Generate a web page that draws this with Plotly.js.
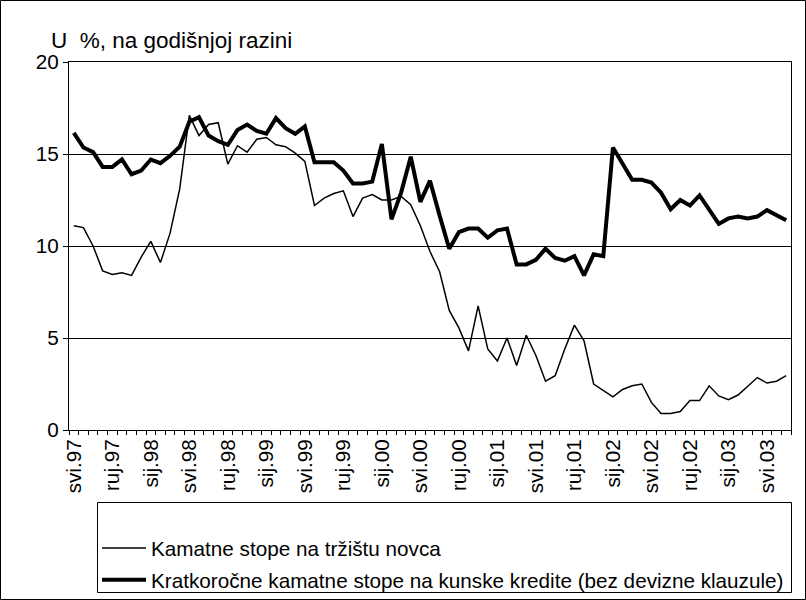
<!DOCTYPE html>
<html>
<head>
<meta charset="utf-8">
<script src="https://cdn.plot.ly/plotly-3.0.1.min.js"></script>
<style>
html,body{margin:0;padding:0;background:#fff;}
#chart{width:806px;height:600px;}
</style>
</head>
<body>
<div id="chart"></div>
<script>
// Monthly categories, May 1997 - July 2003
const months = [
 "svi.97","lip.97","srp.97","kol.97","ruj.97","lis.97","stu.97","pro.97",
 "sij.98","velj.98","ožu.98","tra.98","svi.98","lip.98","srp.98","kol.98","ruj.98","lis.98","stu.98","pro.98",
 "sij.99","velj.99","ožu.99","tra.99","svi.99","lip.99","srp.99","kol.99","ruj.99","lis.99","stu.99","pro.99",
 "sij.00","velj.00","ožu.00","tra.00","svi.00","lip.00","srp.00","kol.00","ruj.00","lis.00","stu.00","pro.00",
 "sij.01","velj.01","ožu.01","tra.01","svi.01","lip.01","srp.01","kol.01","ruj.01","lis.01","stu.01","pro.01",
 "sij.02","velj.02","ožu.02","tra.02","svi.02","lip.02","srp.02","kol.02","ruj.02","lis.02","stu.02","pro.02",
 "sij.03","velj.03","ožu.03","tra.03","svi.03","lip.03","srp.03"
];

// Tick labels shown on the axis
const tickLabels = ["svi.97","ruj.97","sij.98","svi.98","ruj.98","sij.99","svi.99","ruj.99",
 "sij.00","svi.00","ruj.00","sij.01","svi.01","ruj.01","sij.02","svi.02","ruj.02","sij.03","svi.03"];

// Kamatne stope na tržištu novca
const moneyMarket = [
 11.1, 11.0, 10.0, 8.65, 8.45, 8.55, 8.4, 9.4,
 10.25, 9.1, 10.7, 13.1, 17.1, 16.0, 16.6, 16.7, 14.45, 15.45, 15.1, 15.8,
 15.9, 15.5, 15.4, 15.05, 14.6, 12.2, 12.6, 12.85, 13.0, 11.6, 12.6, 12.8,
 12.5, 12.5, 12.7, 12.25, 11.1, 9.7, 8.6, 6.5, 5.55, 4.3, 6.75, 4.4,
 3.75, 5.0, 3.5, 5.15, 4.05, 2.65, 2.95, 4.4, 5.7, 4.85, 2.5, 2.15,
 1.8, 2.2, 2.4, 2.5, 1.5, 0.9, 0.9, 1.0, 1.6, 1.6, 2.4, 1.85,
 1.65, 1.9, 2.4, 2.85, 2.55, 2.65, 2.95
];

// Kratkoročne kamatne stope na kunske kredite (bez devizne klauzule)
const shortTermLoans = [
 16.15, 15.35, 15.1, 14.3, 14.3, 14.7, 13.9, 14.1,
 14.7, 14.5, 14.9, 15.4, 16.75, 17.0, 16.0, 15.7, 15.5, 16.3, 16.6, 16.25,
 16.1, 16.95, 16.4, 16.1, 16.5, 14.55, 14.55, 14.55, 14.1, 13.4, 13.4, 13.5,
 15.55, 11.45, 12.9, 14.85, 12.4, 13.55, 11.65, 9.85, 10.75, 10.95, 10.95, 10.45,
 10.85, 10.95, 9.0, 9.0, 9.25, 9.85, 9.35, 9.2, 9.45, 8.4, 9.55, 9.45,
 15.35, 14.45, 13.6, 13.6, 13.45, 12.9, 12.0, 12.5, 12.2, 12.75, 12.0, 11.2,
 11.5, 11.6, 11.5, 11.6, 11.95, 11.7, 11.4
];

const seriesNames = ["Kamatne stope na tržištu novca",
 "Kratkoročne kamatne stope na kunske kredite (bez devizne klauzule)"];
const yTitle = "U\u00a0\u00a0%, na godišnjoj razini";

const xIdx = months.map((m, i) => i);
const tickvals = tickLabels.map(t => months.indexOf(t));

const FONT = "Liberation Sans, Arial, sans-serif";
const FS = 20.7;

const traces = [
  {x: xIdx, y: moneyMarket, type: "scatter", mode: "lines", name: seriesNames[0],
   line: {color: "#000", width: 1.5}, legendgroup: "a"},
  {x: xIdx, y: shortTermLoans, type: "scatter", mode: "lines", name: seriesNames[1],
   line: {color: "#000", width: 4}, legendgroup: "b"},
  // invisible carrier for the category-boundary tick axis
  {x: xIdx, y: moneyMarket, type: "scatter", mode: "lines", xaxis: "x2",
   line: {color: "rgba(0,0,0,0)", width: 0}, showlegend: false, hoverinfo: "skip", legendgroup: "c"}
];

// plot area in px: x 69..791, y 62..430
const L = 69, R = 791, T = 62, B = 430, W = 806, H = 600;
const px = v => (v - L) / (R - L);
const py = v => (B - v) / (B - T);

const layout = {
  width: W, height: H,
  margin: {l: L, r: W - R, t: T, b: H - B, pad: 0, autoexpand: false},
  paper_bgcolor: "#fff", plot_bgcolor: "#fff",
  font: {family: FONT, size: FS, color: "#000"},
  showlegend: true,
  legend: {
    x: px(97), y: py(528), xanchor: "left", yanchor: "top",
    bgcolor: "rgba(0,0,0,0)", borderwidth: 0,
    font: {family: FONT, size: FS, color: "#000"},
    traceorder: "grouped", tracegroupgap: 2, itemwidth: 44
  },
  xaxis: {
    range: [-0.5, months.length - 0.5],
    tickmode: "array", tickvals: tickvals, ticktext: tickLabels,
    tickangle: -90, ticks: "", showgrid: false, zeroline: false,
    showline: true, linecolor: "#000", linewidth: 1, mirror: true,
    tickfont: {family: FONT, size: FS, color: "#000"},
    fixedrange: true
  },
  xaxis2: {
    overlaying: "x", anchor: "y", side: "bottom",
    range: [-0.5, months.length - 0.5],
    tickmode: "linear", tick0: -0.5, dtick: 1,
    ticks: "outside", ticklen: 4, tickwidth: 1, tickcolor: "#000",
    showticklabels: false, showgrid: false, zeroline: false, showline: false,
    fixedrange: true
  },
  yaxis: {
    range: [0, 20], tickmode: "linear", tick0: 0, dtick: 5,
    ticks: "outside", ticklen: 5, tickcolor: "#000", tickwidth: 1,
    showgrid: true, gridcolor: "#000", gridwidth: 1, zeroline: false,
    showline: true, linecolor: "#000", linewidth: 1, mirror: true,
    tickfont: {family: FONT, size: FS, color: "#000"},
    fixedrange: true
  },
  annotations: [
    {xref: "paper", yref: "paper", x: px(49), y: py(40), xanchor: "left", yanchor: "middle",
     text: yTitle, showarrow: false, font: {family: FONT, size: 22.5, color: "#000"}}
  ],
  shapes: [
    {type: "rect", xref: "paper", yref: "paper", x0: px(97.5), x1: px(791.5), y0: py(592.5), y1: py(502.5),
     line: {color: "#000", width: 1}, fillcolor: "rgba(0,0,0,0)", layer: "above"},
    {type: "rect", xref: "paper", yref: "paper", x0: px(0.5), x1: px(805.5), y0: py(599.5), y1: py(0.5),
     line: {color: "#000", width: 1}, fillcolor: "rgba(0,0,0,0)", layer: "above"}
  ]
};

Plotly.newPlot("chart", traces, layout, {displayModeBar: false, staticPlot: true});
</script>
</body>
</html>
